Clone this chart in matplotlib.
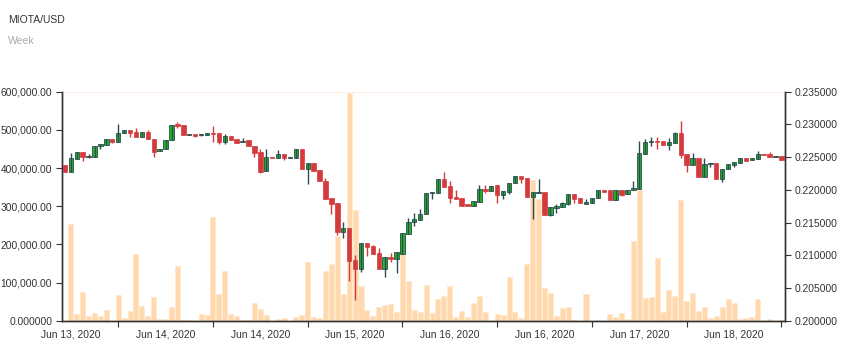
import numpy as np
import matplotlib
matplotlib.use('Agg')
import matplotlib.pyplot as plt

plt.rcParams['font.family'] = ['Liberation Sans', 'DejaVu Sans']

title = 'MIOTA/USD'
subtitle = 'Week'

# price candles: open, high, low, close
opens = [0.22380, 0.22277, 0.22471, 0.22574, 0.22497, 0.22502, 0.22675, 0.22685, 0.22772, 0.22736,
         0.22869, 0.22910, 0.22879, 0.22812, 0.22879, 0.22772, 0.22589, 0.22620, 0.22757, 0.23002,
         0.22986, 0.22834, 0.22849, 0.22834, 0.22834, 0.22869, 0.22864, 0.22736, 0.22823, 0.22772,
         0.22727, 0.22762, 0.22675, 0.22583, 0.22293, 0.22506, 0.22491, 0.22548, 0.22491, 0.22491,
         0.22624, 0.22326, 0.22415, 0.22299, 0.22140, 0.21871, 0.21794, 0.21360, 0.21417, 0.20928,
         0.20790, 0.21183, 0.21142, 0.21035, 0.20795, 0.20974, 0.20938, 0.21024, 0.21330, 0.21504,
         0.21539, 0.21626, 0.21947, 0.21956, 0.22161, 0.22063, 0.21886, 0.21871, 0.21779, 0.21753,
         0.21814, 0.22017, 0.21982, 0.22069, 0.21926, 0.21972, 0.22100, 0.22207, 0.22176, 0.21895,
         0.21952, 0.21972, 0.21620, 0.21718, 0.21742, 0.21788, 0.21941, 0.21871, 0.21788, 0.21794,
         0.21871, 0.21998, 0.21993, 0.21840, 0.21993, 0.21932, 0.21993, 0.22008, 0.22552, 0.22727,
         0.22747, 0.22747, 0.22685, 0.22711, 0.22869, 0.22548, 0.22384, 0.22482, 0.22192, 0.22390,
         0.22415, 0.22170, 0.22314, 0.22384, 0.22415, 0.22482, 0.22456, 0.22476, 0.22552, 0.22548,
         0.22497, 0.22513]
highs = [0.22380, 0.22558, 0.22574, 0.22574, 0.22548, 0.22675, 0.22701, 0.22777, 0.22772, 0.23002,
         0.22910, 0.22910, 0.22941, 0.22879, 0.22915, 0.22772, 0.22620, 0.22762, 0.22986, 0.23037,
         0.22986, 0.22853, 0.22849, 0.22849, 0.22864, 0.22976, 0.22864, 0.22853, 0.22823, 0.22772,
         0.22788, 0.22762, 0.22675, 0.22620, 0.22620, 0.22506, 0.22609, 0.22548, 0.22506, 0.22624,
         0.22624, 0.22418, 0.22415, 0.22299, 0.22176, 0.21871, 0.21794, 0.21508, 0.21417, 0.21004,
         0.21183, 0.21183, 0.21157, 0.21107, 0.20969, 0.21030, 0.21045, 0.21336, 0.21565, 0.21641,
         0.21707, 0.21947, 0.21962, 0.22161, 0.22268, 0.22135, 0.21998, 0.21871, 0.21779, 0.21825,
         0.22069, 0.22074, 0.22059, 0.22069, 0.21982, 0.22109, 0.22207, 0.22207, 0.22176, 0.21962,
         0.22161, 0.21972, 0.21733, 0.21788, 0.21819, 0.21932, 0.21941, 0.21871, 0.21855, 0.21880,
         0.21993, 0.21998, 0.21993, 0.21993, 0.21993, 0.22002, 0.22140, 0.22747, 0.22772, 0.22803,
         0.22803, 0.22747, 0.22788, 0.22889, 0.23052, 0.22548, 0.22568, 0.22482, 0.22482, 0.22415,
         0.22415, 0.22319, 0.22390, 0.22430, 0.22482, 0.22482, 0.22482, 0.22598, 0.22552, 0.22574,
         0.22513, 0.22513]
lows = [0.22277, 0.22277, 0.22471, 0.22445, 0.22491, 0.22502, 0.22624, 0.22685, 0.22711, 0.22736,
        0.22869, 0.22803, 0.22812, 0.22812, 0.22772, 0.22506, 0.22589, 0.22620, 0.22757, 0.22941,
        0.22838, 0.22834, 0.22803, 0.22818, 0.22834, 0.22731, 0.22705, 0.22705, 0.22766, 0.22711,
        0.22727, 0.22666, 0.22502, 0.22262, 0.22293, 0.22491, 0.22491, 0.22456, 0.22491, 0.22491,
        0.22319, 0.22089, 0.22293, 0.22131, 0.21860, 0.21626, 0.21310, 0.21268, 0.20607, 0.20316,
        0.20749, 0.20989, 0.21024, 0.20795, 0.20672, 0.20902, 0.20734, 0.21024, 0.21330, 0.21447,
        0.21539, 0.21626, 0.21865, 0.21956, 0.22048, 0.21794, 0.21860, 0.21758, 0.21753, 0.21753,
        0.21814, 0.21956, 0.21982, 0.21803, 0.21865, 0.21941, 0.22100, 0.22109, 0.21891, 0.21559,
        0.21952, 0.21620, 0.21596, 0.21651, 0.21742, 0.21764, 0.21803, 0.21794, 0.21788, 0.21794,
        0.21871, 0.21972, 0.21840, 0.21840, 0.21906, 0.21932, 0.21993, 0.22008, 0.22552, 0.22675,
        0.22629, 0.22681, 0.22609, 0.22711, 0.22491, 0.22277, 0.22384, 0.22192, 0.22192, 0.22354,
        0.22170, 0.22124, 0.22314, 0.22345, 0.22415, 0.22445, 0.22456, 0.22476, 0.22528, 0.22502,
        0.22497, 0.22461]
closes = [0.22277, 0.22482, 0.22574, 0.22506, 0.22522, 0.22675, 0.22701, 0.22777, 0.22731, 0.22873,
          0.22910, 0.22864, 0.22812, 0.22879, 0.22772, 0.22583, 0.22620, 0.22762, 0.22986, 0.22976,
          0.22838, 0.22853, 0.22823, 0.22849, 0.22864, 0.22849, 0.22731, 0.22823, 0.22766, 0.22711,
          0.22751, 0.22666, 0.22568, 0.22277, 0.22502, 0.22491, 0.22548, 0.22491, 0.22506, 0.22624,
          0.22319, 0.22418, 0.22293, 0.22131, 0.21860, 0.21784, 0.21360, 0.21417, 0.20917, 0.20786,
          0.21183, 0.21126, 0.21024, 0.20795, 0.20969, 0.20938, 0.21045, 0.21336, 0.21508, 0.21554,
          0.21626, 0.21947, 0.21962, 0.22161, 0.22048, 0.21871, 0.21860, 0.21758, 0.21753, 0.21825,
          0.22013, 0.21982, 0.22059, 0.21926, 0.21982, 0.22109, 0.22207, 0.22166, 0.21891, 0.21962,
          0.21967, 0.21620, 0.21733, 0.21753, 0.21803, 0.21932, 0.21860, 0.21794, 0.21814, 0.21880,
          0.21993, 0.21972, 0.21840, 0.21993, 0.21926, 0.22002, 0.22024, 0.22558, 0.22731, 0.22747,
          0.22731, 0.22681, 0.22727, 0.22869, 0.22533, 0.22384, 0.22482, 0.22192, 0.22395, 0.22415,
          0.22170, 0.22319, 0.22390, 0.22430, 0.22482, 0.22445, 0.22482, 0.22543, 0.22528, 0.22502,
          0.22513, 0.22461]

volumes = [0, 254000, 18000, 74000, 12000, 20000, 12000, 27000, 0, 68000,
           7000, 25000, 176000, 39000, 13000, 63000, 3500, 3500, 37000, 144000,
           2000, 1000, 0, 17000, 16000, 271000, 70000, 131000, 18000, 12000,
           3000, 3000, 46000, 30000, 15000, 0, 3500, 8000, 0, 9000,
           15000, 153000, 10000, 8000, 130000, 148000, 223000, 69000, 596000, 289000,
           90000, 29000, 13000, 36000, 41000, 43000, 23000, 230000, 103000, 28000,
           23000, 93000, 19000, 58000, 64000, 90000, 10000, 25000, 10000, 46000,
           64000, 24000, 0, 18000, 15000, 114000, 23000, 8000, 148000, 369000,
           319000, 86000, 72000, 11000, 33000, 36000, 2000, 0, 71000, 0,
           2000, 0, 18000, 10000, 20000, 4000, 210000, 342000, 59000, 62000,
           164000, 23000, 81000, 64000, 316000, 51000, 72000, 25000, 37000, 7000,
           13000, 37000, 56000, 46000, 4000, 8000, 10000, 58000, 0, 4000,
           0, 2000]

date_labels = ['Jun 13, 2020', 'Jun 14, 2020', 'Jun 14, 2020', 'Jun 15, 2020',
               'Jun 16, 2020', 'Jun 16, 2020', 'Jun 17, 2020', 'Jun 18, 2020']
vol_ticks = [0, 100000, 200000, 300000, 400000, 500000, 600000]
vol_labels = ['0.000000', '100,000.00', '200,000.00', '300,000.00',
              '400,000.00', '500,000.00', '600,000.00']
price_ticks = [0.200, 0.205, 0.210, 0.215, 0.220, 0.225, 0.230, 0.235]

o = np.array(opens)
h = np.array(highs)
l = np.array(lows)
c = np.array(closes)
x = np.arange(len(o))
up = c >= o

green = '#1fb81f'
green_edge = '#2e4a55'
red = '#d43a3c'
txt = '#333333'

fig = plt.figure(figsize=(8.5, 3.49), dpi=100)
ax = fig.add_axes([0.0729, 0.0811, 0.8506, 0.6561])
ax2 = ax.twinx()

# volume
ax.bar(x, volumes, width=0.85, color='#ffd9ad', edgecolor='#ffe6c8', linewidth=0.4)
ax.axhline(600000, color='#fbefe8', lw=1)
ax.set_ylim(0, 600000)
ax.set_xlim(-0.5, len(o) - 0.4)
ax.set_yticks(vol_ticks)
ax.set_yticklabels(vol_labels)

# candles
ax2.vlines(x[up], l[up], h[up], color=green_edge, lw=1)
ax2.vlines(x[~up], l[~up], h[~up], color=red, lw=1)
ax2.bar(x[up], np.maximum(c[up] - o[up], 0.00004), bottom=o[up], width=0.74,
        color=green, edgecolor=green_edge, linewidth=0.6)
ax2.bar(x[~up], np.minimum(c[~up] - o[~up], -0.00004), bottom=o[~up], width=0.74,
        color=red, edgecolor=red, linewidth=0.5)
ax2.set_ylim(0.2, 0.235)
ax2.set_yticks(price_ticks)
ax2.set_yticklabels(['%.6f' % p for p in price_ticks])

# x axis: ticks between day bands, labels in the middle
ax.set_xticks([9, 25, 41, 57, 73, 89, 105, 121])
ax.set_xticklabels([])
ax.set_xticks([1, 17, 33, 49, 65, 81, 97, 113], minor=True)
ax.set_xticklabels(date_labels, minor=True)
ax.tick_params(axis='x', which='minor', length=0, pad=6)
ax.tick_params(axis='x', which='major', length=4, color=txt)

for a in (ax, ax2):
    a.spines['top'].set_visible(False)
    for s in ('left', 'right', 'bottom'):
        a.spines[s].set_color(txt)
        a.spines[s].set_linewidth(1)
    a.tick_params(axis='y', length=4, color=txt, labelsize=7.4, labelcolor=txt, pad=3)
ax.tick_params(axis='x', which='both', labelsize=7.4, labelcolor=txt)

fig.text(8 / 850, 1 - 20 / 349, title, fontsize=7.5, color=txt, va='center', ha='left')
fig.text(8 / 850, 1 - 41 / 349, subtitle, fontsize=7.5, color='#aaaaaa', va='center', ha='left')

fig.savefig('out.png', dpi=100)
